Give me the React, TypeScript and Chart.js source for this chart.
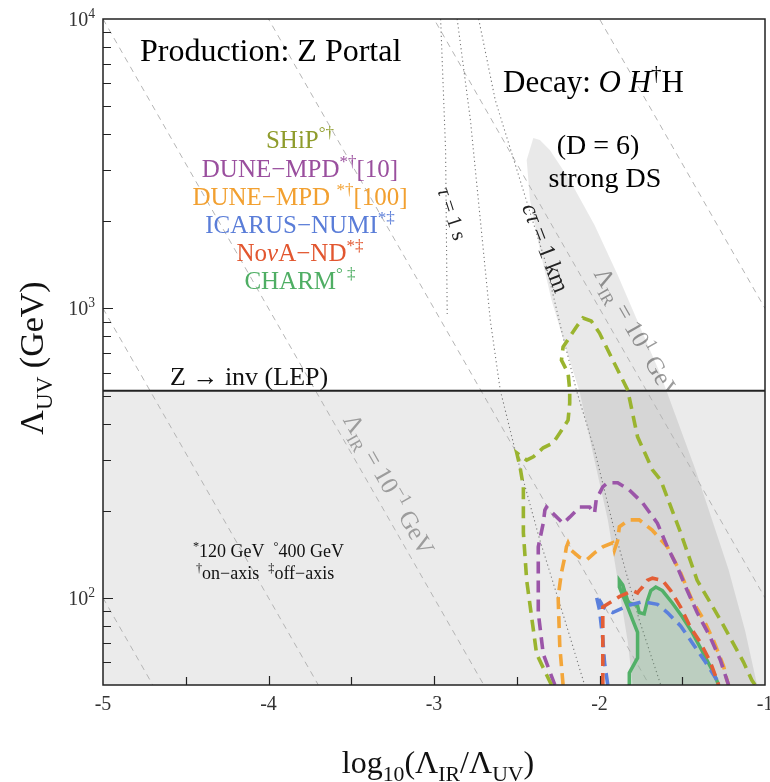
import React, { useEffect, useRef } from 'react';
import { Chart, registerables } from 'chart.js';

Chart.register(...registerables);

// ---------- axes ----------
const xMin = -5;
const xMax = -1;
const yMin = 50;
const yMax = 10000;
const xTickValues = [-5, -4.5, -4, -3.5, -3, -2.5, -2, -1.5, -1];
const xLabelValues = [-5, -4, -3, -2, -1];
const xLabelTexts = ['-5', '-4', '-3', '-2', '-1'];
const yTickValues = [50, 60, 70, 80, 90, 100, 200, 300, 400, 500, 600, 700, 800, 900, 1000, 2000, 3000, 4000, 5000, 6000, 7000, 8000, 9000, 10000];
const yLabelValues = [100, 1000, 10000];
const yLabelExponents = ['2', '3', '4'];

// ---------- reference lines ----------
const lepBound = 520;
const irExponents = [-3, -2, -1, 0, 1, 2];

const tauLineX = [-2.96, -2.93, -2.92];
const tauLineY = [10000, 3527, 934];
const decayLineX = [-2.86, -2.78, -2.72, -2.66, -2.6, -2.51, -2.36, -2.21, -2.09];
const decayLineY = [10000, 4477, 2021, 912, 523, 324, 158, 84, 50];
const ctauLineX = [-2.73, -2.63, -2.48, -2.33, -2.23, -2.14, -2.03, -1.91, -1.76, -1.63];
const ctauLineY = [10000, 5248, 2777, 1469, 842, 523, 324, 171, 84, 50];

// ---------- strong DS band ----------
const bandX = [-2.4, -2.44, -2.42, -2.36, -2.29, -2.2, -2.12, -2.04, -1.95, -1.89, -1.83, -1.79, -1.03, -1.12, -1.22, -1.32, -1.42, -1.53, -1.63, -1.76, -1.89, -2.03, -2.18, -2.3, -2.36];
const bandY = [3880, 3258, 2370, 1591, 1069, 718, 514, 316, 186, 115, 71, 45, 45, 77, 125, 186, 277, 411, 589, 877, 1304, 1942, 2777, 3527, 3818];

// ---------- experiment contours ----------
const shipX = [-2.29, -2.38, -2.44, -2.46, -2.46, -2.48, -2.5, -2.44, -2.4, -2.34, -2.28, -2.24, -2.19, -2.18, -2.18, -2.19, -2.23, -2.22, -2.18, -2.14, -2.1, -2.05, -2.0, -1.92, -1.83, -1.77, -1.68, -1.63, -1.51, -1.41, -1.27, -1.13, -1.08, -1.06];
const shipY = [50, 64, 115, 168, 242, 283, 317, 299, 307, 330, 343, 371, 411, 471, 523, 598, 663, 736, 797, 863, 927, 905, 822, 663, 523, 360, 277, 255, 168, 115, 84, 60, 52, 50];

const dune10X = [-2.27, -2.34, -2.37, -2.37, -2.34, -2.33, -2.32, -2.29, -2.22, -2.18, -2.12, -2.06, -2.03, -2.02, -1.98, -1.95, -1.89, -1.82, -1.74, -1.65, -1.59, -1.53, -1.47, -1.41, -1.33, -1.27, -1.23, -1.22];
const dune10Y = [50, 64, 89, 150, 181, 201, 206, 198, 181, 190, 206, 206, 196, 218, 242, 250, 250, 236, 213, 181, 150, 128, 106, 89, 73, 61, 52, 50];

const dune100X = [-2.22, -2.24, -2.25, -2.23, -2.21, -2.2, -2.19, -2.17, -2.12, -2.08, -2.03, -1.98, -1.92, -1.91, -1.89, -1.88, -1.82, -1.76, -1.68, -1.59, -1.51, -1.44, -1.37, -1.31, -1.25, -1.23, -1.22];
const dune100Y = [50, 68, 101, 122, 138, 150, 155, 146, 138, 135, 143, 150, 155, 146, 158, 176, 186, 186, 171, 150, 122, 98, 84, 71, 58, 52, 50];

const icarusX = [-1.95, -1.97, -1.98, -2.0, -2.02, -1.99, -1.98, -1.92, -1.83, -1.74, -1.65, -1.59, -1.51, -1.44, -1.36, -1.29, -1.28];
const icarusY = [50, 60, 72, 91, 102, 96, 93, 89, 94, 97, 95, 89, 80, 70, 60, 52, 50];

const novaX = [-1.98, -1.98, -1.98, -1.98, -1.88, -1.83, -1.8, -1.77, -1.76, -1.74, -1.71, -1.68, -1.62, -1.57, -1.51, -1.45, -1.39, -1.33, -1.29, -1.28];
const novaY = [50, 68, 84, 93, 101, 104, 106, 104, 106, 109, 115, 117, 115, 106, 93, 79, 70, 60, 52, 50];

const charmX = [-1.82, -1.82, -1.77, -1.77, -1.8, -1.83, -1.88, -1.88, -1.86, -1.83, -1.82, -1.77, -1.76, -1.73, -1.71, -1.69, -1.66, -1.62, -1.56, -1.5, -1.44, -1.37, -1.31, -1.28];
const charmY = [50, 55, 62, 76, 84, 93, 109, 115, 111, 98, 96, 94, 89, 88, 98, 106, 109, 106, 96, 86, 76, 64, 55, 50];

// ---------- styling ----------
const SERIF = '"Liberation Serif", "Times New Roman", Times, serif';
const C_SHIP = '#9ab42f';
const C_DUNE10 = '#9b55a8';
const C_DUNE100 = '#f3a63a';
const C_ICARUS = '#5b80dc';
const C_NOVA = '#e35e36';
const C_CHARM = '#52b068';

type Seg = { t: string; v?: 'sub' | 'sup'; it?: boolean };

function segFont(seg: Seg, size: number) {
  const s = seg.v ? size * 0.68 : size;
  return `${seg.it ? 'italic ' : ''}${s}px ${SERIF}`;
}

function drawRich(
  ctx: CanvasRenderingContext2D,
  segs: Seg[],
  x: number,
  y: number,
  size: number,
  color: string,
  align: 'left' | 'center' | 'right' = 'left',
  angle = 0
) {
  ctx.save();
  ctx.translate(x, y);
  if (angle) ctx.rotate(angle);
  ctx.fillStyle = color;
  ctx.textBaseline = 'alphabetic';
  ctx.textAlign = 'left';
  let w = 0;
  for (const s of segs) {
    ctx.font = segFont(s, size);
    w += ctx.measureText(s.t).width;
  }
  let cx = align === 'center' ? -w / 2 : align === 'right' ? -w : 0;
  for (const s of segs) {
    ctx.font = segFont(s, size);
    const dy = s.v === 'sub' ? size * 0.25 : s.v === 'sup' ? -size * 0.4 : 0;
    ctx.fillText(s.t, cx, dy);
    cx += ctx.measureText(s.t).width;
  }
  ctx.restore();
}

const pts = (xs: number[], ys: number[]) => xs.map((x, i) => ({ x, y: ys[i] }));

const irLabels = [
  { k: -1, x0: -3.6, off: 9, exp: '−1', before: false },
  { k: 1, x0: -2.1, off: 12, exp: '1', before: true },
];

const legendEntries: { segs: Seg[]; color: string }[] = [
  { segs: [{ t: 'SHiP' }, { t: '°†', v: 'sup' }], color: '#8f9c2c' },
  { segs: [{ t: 'DUNE−MPD' }, { t: '*†', v: 'sup' }, { t: '[10]' }], color: '#9a4f9e' },
  { segs: [{ t: 'DUNE−MPD ' }, { t: '*†', v: 'sup' }, { t: '[100]' }], color: '#f2a030' },
  { segs: [{ t: 'ICARUS−NUMI' }, { t: '*‡', v: 'sup' }], color: '#5a7dd8' },
  { segs: [{ t: 'No' }, { t: 'ν', it: true }, { t: 'A−ND' }, { t: '*‡', v: 'sup' }], color: '#e2562f' },
  { segs: [{ t: 'CHARM' }, { t: '° ‡', v: 'sup' }], color: '#4fae64' },
];

function drawIrLabel(chart: any, lab: { k: number; x0: number; off: number; exp: string }) {
  const xs = chart.scales.x;
  const ys = chart.scales.y;
  const ctx = chart.ctx as CanvasRenderingContext2D;
  const ax = xs.getPixelForValue(-3);
  const ay = ys.getPixelForValue(Math.pow(10, lab.k + 3));
  const bx = xs.getPixelForValue(-2);
  const by = ys.getPixelForValue(Math.pow(10, lab.k + 2));
  const ang = Math.atan2(by - ay, bx - ax);
  const px = xs.getPixelForValue(lab.x0) + Math.sin(ang) * lab.off;
  const py = ys.getPixelForValue(Math.pow(10, lab.k - lab.x0)) - Math.cos(ang) * lab.off;
  drawRich(
    ctx,
    [{ t: 'Λ' }, { t: 'IR', v: 'sub' }, { t: ' = 10' }, { t: lab.exp, v: 'sup' }, { t: ' GeV' }],
    px,
    py,
    25,
    '#9c9c9c',
    'left',
    ang
  );
}

const decorPlugin = {
  id: 'decor',
  beforeDatasetsDraw(chart: any) {
    irLabels.filter((l) => l.before).forEach((l) => drawIrLabel(chart, l));
  },
  afterDatasetsDraw(chart: any) {
    const ctx = chart.ctx as CanvasRenderingContext2D;
    const xs = chart.scales.x;
    const ys = chart.scales.y;
    irLabels.filter((l) => !l.before).forEach((l) => drawIrLabel(chart, l));
    drawRich(ctx, [{ t: 'τ', it: true }, { t: ' = 1 s' }], xs.getPixelForValue(-2.98), ys.getPixelForValue(2560), 21, '#222', 'left', (72 * Math.PI) / 180);
    drawRich(ctx, [{ t: 'cτ', it: true }, { t: ' = 1 km' }], xs.getPixelForValue(-2.47), ys.getPixelForValue(2240), 24, '#222', 'left', (69 * Math.PI) / 180);
  },
  afterDraw(chart: any) {
    const ctx = chart.ctx as CanvasRenderingContext2D;
    const { left, right, top, bottom } = chart.chartArea;
    const xs = chart.scales.x;
    const ys = chart.scales.y;
    ctx.save();
    ctx.strokeStyle = '#222';
    ctx.lineWidth = 1.5;
    ctx.strokeRect(left, top, right - left, bottom - top);
    ctx.lineWidth = 1.2;
    ctx.beginPath();
    ys.ticks.forEach((t: any) => {
      const py = Math.round(ys.getPixelForValue(t.value)) + 0.5;
      if (py <= top + 1 || py >= bottom - 1) return;
      const len = yLabelValues.includes(t.value) ? 10 : 8;
      ctx.moveTo(left, py);
      ctx.lineTo(left + len, py);
    });
    xs.ticks.forEach((t: any) => {
      const px = Math.round(xs.getPixelForValue(t.value)) + 0.5;
      if (px <= left + 1 || px >= right - 1) return;
      const len = Number.isInteger(t.value) ? 9 : 8;
      ctx.moveTo(px, bottom);
      ctx.lineTo(px, bottom - len);
    });
    ctx.stroke();
    ctx.restore();

    yLabelValues.forEach((v, i) => {
      const py = ys.getPixelForValue(v);
      drawRich(ctx, [{ t: '10' }, { t: yLabelExponents[i], v: 'sup' }], 95, py + 7, 20, '#333', 'right');
    });
    xLabelValues.forEach((v, i) => {
      const px = xs.getPixelForValue(v);
      drawRich(ctx, [{ t: xLabelTexts[i] }], px, bottom + 25, 20, '#333', 'center');
    });

    drawRich(ctx, [{ t: 'Λ' }, { t: 'UV', v: 'sub' }, { t: ' (GeV)' }], 43, 358, 34, '#111', 'center', -Math.PI / 2);
    drawRich(
      ctx,
      [{ t: 'log' }, { t: '10', v: 'sub' }, { t: '(Λ' }, { t: 'IR', v: 'sub' }, { t: '/Λ' }, { t: 'UV', v: 'sub' }, { t: ')' }],
      438,
      773,
      32,
      '#111',
      'center'
    );

    drawRich(ctx, [{ t: 'Production: Z Portal' }], 140, 61, 32, '#000', 'left');
    drawRich(
      ctx,
      [{ t: 'Decay: ' }, { t: 'O', it: true }, { t: ' ' }, { t: 'H', it: true }, { t: '†', v: 'sup' }, { t: 'H' }],
      503,
      92,
      31,
      '#000',
      'left'
    );
    drawRich(ctx, [{ t: '(D = 6)' }], 598, 154, 28, '#000', 'center');
    drawRich(ctx, [{ t: 'strong DS' }], 605, 187, 28, '#000', 'center');
    drawRich(ctx, [{ t: 'Z → inv (LEP)' }], 170, 385, 26, '#111', 'left');

    const legendBaselines = [148, 177, 205, 233, 261, 289];
    legendEntries.forEach((e, i) => {
      drawRich(ctx, e.segs, 300, legendBaselines[i], 25, e.color, 'center');
    });

    drawRich(ctx, [{ t: '*', v: 'sup' }, { t: '120 GeV  ' }, { t: '°', v: 'sup' }, { t: '400 GeV' }], 193, 557, 18, '#111', 'left');
    drawRich(ctx, [{ t: '†', v: 'sup' }, { t: 'on−axis  ' }, { t: '‡', v: 'sup' }, { t: 'off−axis' }], 196, 579, 18, '#111', 'left');
  },
};

function lineDs(data: any[], color: string, width: number, dash: number[], order: number, extra: any = {}) {
  return {
    data,
    showLine: true,
    borderColor: color,
    borderWidth: width,
    borderDash: dash,
    pointRadius: 0,
    pointHoverRadius: 0,
    fill: false,
    tension: 0,
    order,
    ...extra,
  };
}

export default function App() {
  const ref = useRef<HTMLCanvasElement | null>(null);

  useEffect(() => {
    if (!ref.current) return;
    const datasets: any[] = [];
    datasets.push(
      lineDs(pts([xMin, xMax], [lepBound, lepBound]), 'rgba(0,0,0,0)', 0, [], 100, {
        fill: 'start',
        backgroundColor: '#ebebeb',
      })
    );
    datasets.push(
      lineDs(pts(bandX, bandY), 'rgba(0,0,0,0)', 0, [], 95, {
        fill: 'shape',
        backgroundColor: 'rgba(0,0,0,0.085)',
      })
    );
    irExponents.forEach((k) => {
      datasets.push(
        lineDs(pts([xMin, xMax], [Math.pow(10, k - xMin), Math.pow(10, k - xMax)]), '#b5b5b5', 1, [6, 5], 90)
      );
    });
    datasets.push(lineDs(pts(tauLineX, tauLineY), '#777', 1.1, [1.2, 3], 85));
    datasets.push(lineDs(pts(decayLineX, decayLineY), '#777', 1.1, [1.2, 3], 85));
    datasets.push(lineDs(pts(ctauLineX, ctauLineY), '#777', 1.1, [1.2, 3], 85));
    datasets.push(lineDs(pts([xMin, xMax], [lepBound, lepBound]), '#222', 2, [], 80));
    datasets.push(
      lineDs(pts(charmX, charmY), C_CHARM, 3.5, [], 60, {
        fill: 'shape',
        backgroundColor: 'rgba(86,176,106,0.2)',
      })
    );
    const dash = [12, 7];
    datasets.push(lineDs(pts(icarusX, icarusY), C_ICARUS, 3.6, dash, 50));
    datasets.push(lineDs(pts(novaX, novaY), C_NOVA, 3.6, dash, 45));
    datasets.push(lineDs(pts(dune100X, dune100Y), C_DUNE100, 3.6, dash, 40));
    datasets.push(lineDs(pts(dune10X, dune10Y), C_DUNE10, 3.6, dash, 35));
    datasets.push(lineDs(pts(shipX, shipY), C_SHIP, 3.6, dash, 30));

    const chart = new Chart(ref.current, {
      type: 'scatter',
      data: { datasets },
      options: {
        animation: false,
        responsive: false,
        maintainAspectRatio: false,
        events: [],
        layout: { padding: { top: 19, right: 5, left: 0, bottom: 0 } },
        plugins: {
          legend: { display: false },
          tooltip: { enabled: false },
        },
        scales: {
          x: {
            type: 'linear',
            min: xMin,
            max: xMax,
            grid: { display: false },
            border: { display: false },
            ticks: { display: false },
            afterBuildTicks: (s: any) => {
              s.ticks = xTickValues.map((v) => ({ value: v }));
            },
            afterFit: (s: any) => {
              s.height = 97;
            },
          },
          y: {
            type: 'logarithmic',
            min: yMin,
            max: yMax,
            grid: { display: false },
            border: { display: false },
            ticks: { display: false },
            afterBuildTicks: (s: any) => {
              s.ticks = yTickValues.map((v) => ({ value: v }));
            },
            afterFit: (s: any) => {
              s.width = 103;
            },
          },
        },
      } as any,
      plugins: [decorPlugin],
    });
    return () => chart.destroy();
  }, []);

  return (
    <div style={{ position: 'absolute', left: 0, top: 0, width: 770, height: 782, background: '#fff' }}>
      <canvas ref={ref} width={770} height={782} style={{ display: 'block', width: 770, height: 782 }} />
    </div>
  );
}
